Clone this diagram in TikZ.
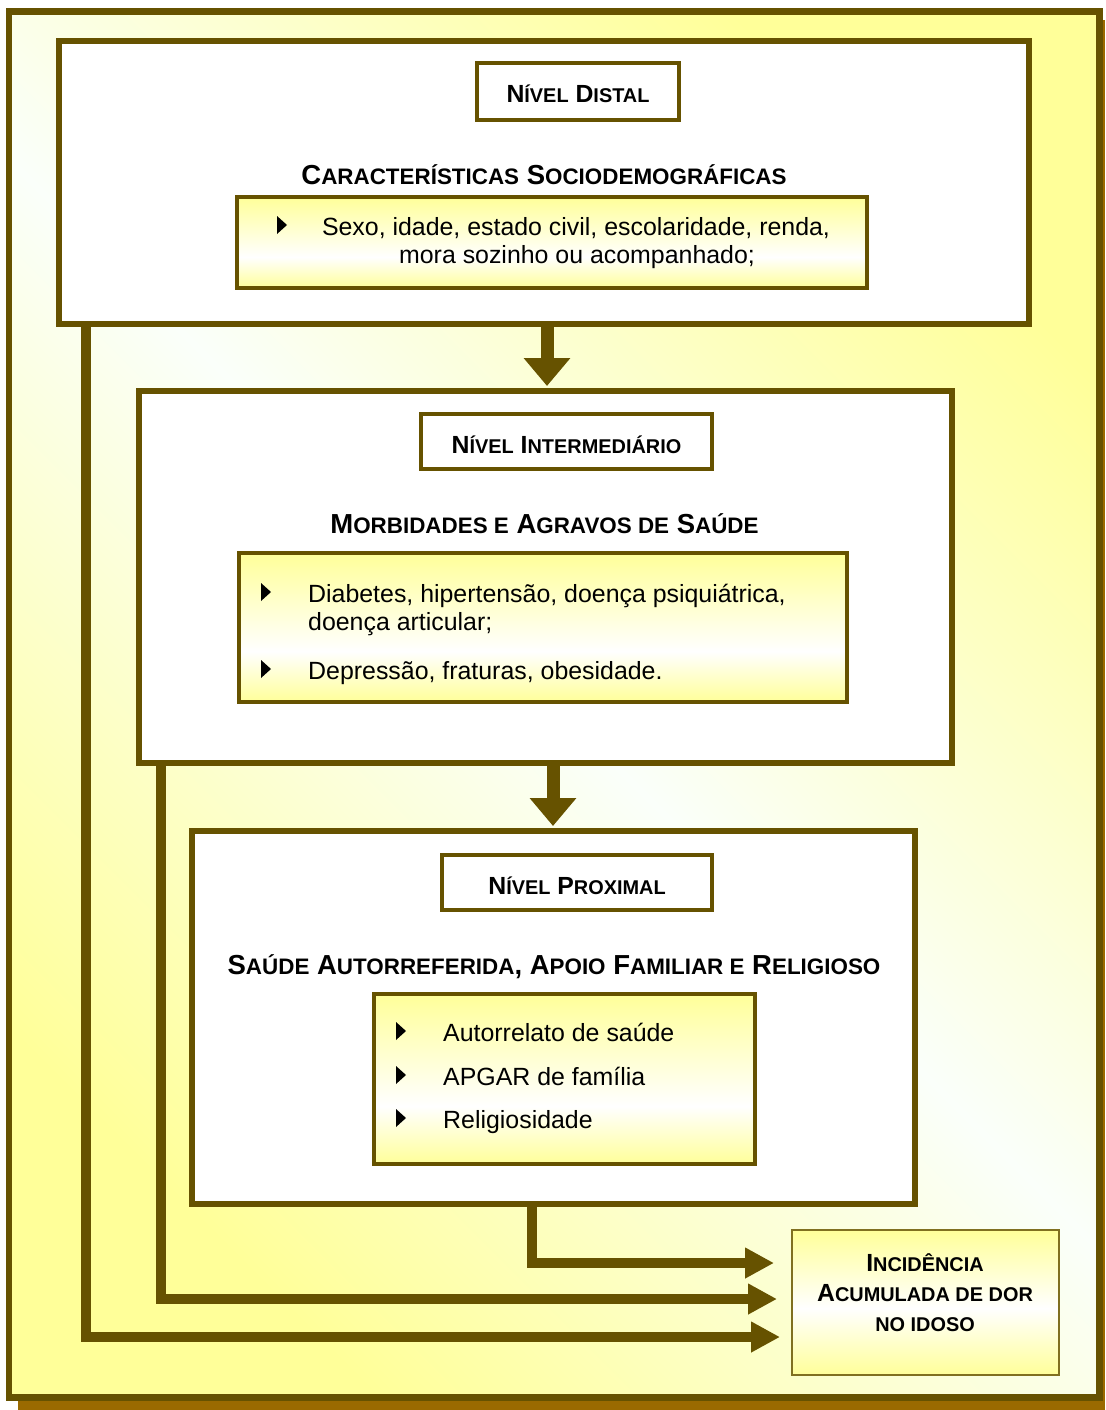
\documentclass[tikz,border=0pt]{standalone}
\usepackage{fontspec}
\setmainfont{Liberation Sans}
\usetikzlibrary{arrows.meta}
\definecolor{olv}{RGB}{102,82,0}
\definecolor{shd}{RGB}{154,106,0}
\definecolor{yel}{RGB}{255,255,153}
\definecolor{wht}{RGB}{250,255,250}
\definecolor{incb}{RGB}{128,112,32}
\pgfdeclareverticalshading{bbshade}{100bp}{color(0bp)=(yel); color(25bp)=(yel); color(42bp)=(white); color(75bp)=(yel); color(100bp)=(yel)}
\pgfdeclareverticalshading{incshade}{100bp}{color(0bp)=(yel); color(25bp)=(yel); color(48bp)=(white); color(75bp)=(yel); color(100bp)=(yel)}
\newcommand\smA[1]{{\fontsize{19.9pt}{24pt}\selectfont #1}}
\newcommand\smB[1]{{\fontsize{22.4pt}{26pt}\selectfont #1}}
\newcommand\bul[2]{\fill[black] (#1,#2-9) -- (#1,#2+9) -- (#1+10,#2) -- cycle;}
\begin{document}
\begin{tikzpicture}[x=1pt,y=-1pt,
  bigbox/.style={draw=olv, line width=6pt, fill=white, rectangle, inner sep=0pt, outer sep=0pt},
  hdrbox/.style={draw=olv, line width=4pt, fill=white, rectangle, inner sep=0pt, outer sep=0pt},
  bulbox/.style={draw=olv, line width=3.5pt, shade, shading=bbshade, rectangle, inner sep=0pt, outer sep=0pt},
  incbox/.style={draw=incb, line width=2pt, shade, shading=incshade, rectangle, inner sep=0pt, outer sep=0pt},
  hdrtxt/.style={font=\fontsize{24.8pt}{28pt}\selectfont\bfseries, anchor=base, inner sep=0pt},
  headtxt/.style={font=\fontsize{27.5pt}{30pt}\selectfont\bfseries, anchor=base, inner sep=0pt},
  bultxt/.style={font=\fontsize{24.9pt}{28pt}\selectfont, anchor=base west, inner sep=0pt},
  bulctr/.style={font=\fontsize{24.9pt}{28pt}\selectfont, anchor=base, inner sep=0pt},
  downarrow/.style={draw=olv, line width=13pt, -{Triangle[length=28pt,width=45pt]}},
  sidearrow/.style={draw=olv, line width=10pt, -{Triangle[length=29pt,width=29pt]}},
]
\useasboundingbox (0,0) rectangle (1105,1410);
% shadow and outer frame
\fill[shd] (18,20) rectangle (1105,1410);
\path[draw=olv, line width=6.5pt, left color=yel, right color=yel, middle color=wht, shading angle=-45] (9,11.5) rectangle (1099.5,1397.5);

% level boxes
\node[bigbox, minimum width=970pt, minimum height=283pt] (b1) at (544,182.5) {};
\node[bigbox, minimum width=813pt, minimum height=372pt] (b2) at (545.5,577) {};
\node[bigbox, minimum width=723pt, minimum height=373pt] (b3) at (553.5,1017.5) {};

% header boxes
\node[hdrbox, minimum width=202pt, minimum height=57pt] (h1) at (578,91.5) {};
\node[hdrbox, minimum width=291pt, minimum height=55pt] (h2) at (566.5,441.5) {};
\node[hdrbox, minimum width=270pt, minimum height=55pt] (h3) at (577,882.5) {};
\node[hdrtxt] (h1t) at (578,103) {N\smA{ÍVEL} D\smA{ISTAL}};
\node[hdrtxt] (h2t) at (566.5,453) {N\smA{ÍVEL} I\smA{NTERMEDIÁRIO}};
\node[hdrtxt] (h3t) at (577,894) {N\smA{ÍVEL} P\smA{ROXIMAL}};

% headings
\node[headtxt] (g1) at (544,184) {C\smB{ARACTERÍSTICAS} S\smB{OCIODEMOGRÁFICAS}};
\node[headtxt] (g2) at (544.5,533) {M\smB{ORBIDADES E} A\smB{GRAVOS DE} S\smB{AÚDE}};
\node[headtxt] (g3) at (554,974) {S\smB{AÚDE} A\smB{UTORREFERIDA}, A\smB{POIO} F\smB{AMILIAR E} R\smB{ELIGIOSO}};

% bullet boxes
\node[bulbox, minimum width=630pt, minimum height=91pt] (bb1) at (552,242.5) {};
\node[bulbox, minimum width=608pt, minimum height=149pt] (bb2) at (543,627.5) {};
\node[bulbox, minimum width=381pt, minimum height=170pt] (bb3) at (564.5,1079) {};

\bul{277}{225}
\node[bulctr] (s1a) at (576,235) {Sexo, idade, estado civil, escolaridade, renda,};
\node[bulctr] (s1b) at (577,263) {mora sozinho ou acompanhado;};

\bul{261}{592}
\bul{261}{669}
\node[bultxt] (s2a) at (308,602) {Diabetes, hipertensão, doença psiquiátrica,};
\node[bultxt] (s2b) at (308,630) {doença articular;};
\node[bultxt] (s2c) at (308,679) {Depressão, fraturas, obesidade.};

\bul{396}{1031}
\bul{396}{1075}
\bul{396}{1118}
\node[bultxt] (s3a) at (443,1041) {Autorrelato de saúde};
\node[bultxt] (s3b) at (443,1085) {APGAR de família};
\node[bultxt] (s3c) at (443,1128) {Religiosidade};

% outcome box
\node[incbox, minimum width=267pt, minimum height=145pt] (inc) at (925.5,1302.5) {};
\node[hdrtxt] (i1) at (925,1271) {I\smA{NCIDÊNCIA}};
\node[hdrtxt] (i2) at (925,1301) {A\smA{CUMULADA DE DOR}};
\node[hdrtxt] (i3) at (925,1331) {\smA{NO IDOSO}};

% arrows
\draw[downarrow] ([xshift=3pt]b1.south) -- ([xshift=3pt,yshift=5pt]b1.south |- b2.north);
\draw[downarrow] ([xshift=7.5pt]b2.south) -- ([xshift=7.5pt,yshift=5pt]b2.south |- b3.north);
\draw[sidearrow] ([xshift=-21.5pt]b3.south) |- ([xshift=-18pt,yshift=39.5pt]inc.west);
\draw[sidearrow] ([xshift=-384.5pt]b2.south) |- ([xshift=-15pt,yshift=3.5pt]inc.west);
\draw[sidearrow] ([xshift=-458pt]b1.south) |- ([xshift=-12pt,yshift=-34.5pt]inc.west);
\end{tikzpicture}
\end{document}
